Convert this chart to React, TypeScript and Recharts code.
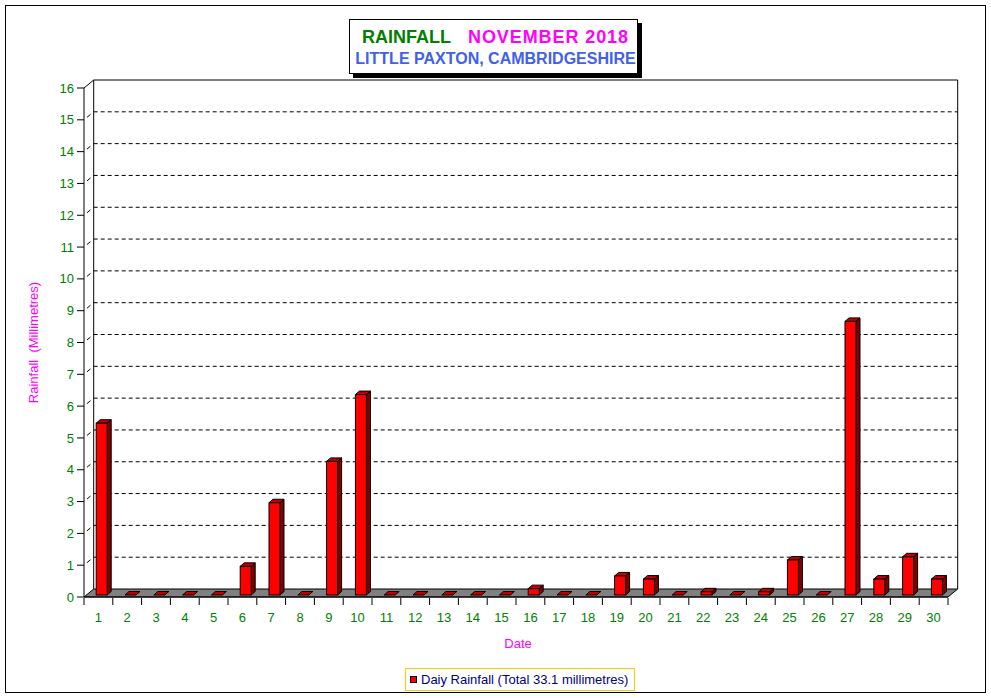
import React from "react";
import { BarChart, Bar, XAxis, YAxis, CartesianGrid, ReferenceArea } from "recharts";

const FONT = "Arial, 'Liberation Sans', sans-serif";

const days = ["1", "2", "3", "4", "5", "6", "7", "8", "9", "10", "11", "12", "13", "14", "15",
  "16", "17", "18", "19", "20", "21", "22", "23", "24", "25", "26", "27", "28", "29", "30"];
const rainfall = [5.4, 0, 0, 0, 0, 0.9, 2.9, 0, 4.2, 6.3, 0, 0, 0, 0, 0,
  0.2, 0, 0, 0.6, 0.5, 0, 0.1, 0, 0.1, 1.1, 0, 8.6, 0.5, 1.2, 0.5];
const yTicks = [0, 1, 2, 3, 4, 5, 6, 7, 8, 9, 10, 11, 12, 13, 14, 15, 16];
const gridValues = [1, 2, 3, 4, 5, 6, 7, 8, 9, 10, 11, 12, 13, 14, 15];

const data = days.map((day, i) => ({ day, rain: rainfall[i] }));

// depth of the back wall and of each bar
const DX = 9.7;
const DY = -8;
const BDX = 4;
const BDY = -3.5;

function Backdrop(p: any) {
  const { x, y, width: w, height: h } = p;
  const b = y + h;
  return (
    <g>
      <polygon
        points={`${x},${b} ${x + w},${b} ${x + w + DX},${b + DY} ${x + DX},${b + DY}`}
        fill="#808080"
        stroke="#000"
      />
      <polyline
        points={`${x + DX},${b + DY} ${x + DX},${y + DY} ${x + w + DX},${y + DY} ${x + w + DX},${b + DY}`}
        fill="none"
        stroke="#000"
      />
      <line x1={x} y1={y} x2={x + DX} y2={y + DY} stroke="#000" />
    </g>
  );
}

function BackGridLine(p: any) {
  const { x1, y1, x2 } = p;
  return (
    <g key={p.key}>
      <line x1={x1 + DX} y1={y1 + DY} x2={x2 + DX} y2={y1 + DY} stroke="#000" strokeDasharray="4 3" />
      <line x1={x1 + 3} y1={y1 - 2.5} x2={x1 + 6.5} y2={y1 - 5.5} stroke="#000" />
    </g>
  );
}

function Bar3D(p: any) {
  const { x, y, width: w, height } = p;
  const h = Math.max(0, height || 0);
  const fx = x + 3.2;
  const fy = y - 2;
  return (
    <g>
      {h > 0 && (
        <polygon
          points={`${fx + w},${fy} ${fx + w + BDX},${fy + BDY} ${fx + w + BDX},${fy + h + BDY} ${fx + w},${fy + h}`}
          fill="#800000"
          stroke="#000"
        />
      )}
      <polygon
        points={`${fx},${fy} ${fx + BDX},${fy + BDY} ${fx + w + BDX},${fy + BDY} ${fx + w},${fy}`}
        fill="#C00000"
        stroke="#000"
      />
      {h > 0 && <rect x={fx} y={fy} width={w} height={h} fill="#FF0000" stroke="#000" />}
    </g>
  );
}

function DateTick(p: any) {
  const { x, y, payload, index } = p;
  const half = payload?.offset ?? 14.4;
  return (
    <g>
      <line x1={x - half} y1={y + 1} x2={x - half} y2={y + 8} stroke="#000" />
      {index === days.length - 1 && <line x1={x + half} y1={y + 1} x2={x + half} y2={y + 8} stroke="#000" />}
      <text x={x} y={y + 25} textAnchor="middle" fill="#008000" fontSize={13}>
        {payload.value}
      </text>
    </g>
  );
}

export default function App() {
  return (
    <div style={{ position: "relative", width: 991, height: 698, fontFamily: FONT, background: "#fff" }}>
      <style>{"body{margin:0}"}</style>
      <BarChart width={991} height={698} data={data} margin={{ top: 88, right: 43, left: 24, bottom: 71 }} barSize={11}>
        <ReferenceArea y1={0} y2={16} shape={Backdrop} ifOverflow="visible" />
        <CartesianGrid horizontalValues={gridValues} vertical={false} horizontal={BackGridLine} />
        <XAxis
          dataKey="day"
          interval={0}
          height={30}
          tickLine={false}
          tickSize={0}
          tickMargin={0}
          stroke="#000"
          tick={DateTick}
        />
        <YAxis
          domain={[0, 16]}
          ticks={yTicks}
          interval={0}
          width={60}
          stroke="#000"
          tickSize={7}
          tickMargin={3}
          tick={{ fill: "#008000", fontSize: 13 }}
        />
        <Bar dataKey="rain" shape={Bar3D} isAnimationActive={false} />
      </BarChart>
      <svg width={991} height={698} style={{ position: "absolute", left: 0, top: 0, pointerEvents: "none" }}>
        <rect x={5.5} y={5.5} width={980} height={687} fill="none" stroke="#000" />
        <rect x={353} y={23} width={289} height={55} fill="#000" />
        <rect x={349.5} y={19.5} width={288} height={54} fill="#fff" stroke="#000" />
        <text x={362} y={43} fontSize={18} fontWeight="bold" fill="#008000">RAINFALL</text>
        <text x={468} y={43} fontSize={18} fontWeight="bold" fill="#FF00FF" textLength={160} lengthAdjust="spacing">
          NOVEMBER 2018
        </text>
        <text x={495.5} y={64} fontSize={16} fontWeight="bold" fill="#4060F0" textAnchor="middle">
          LITTLE PAXTON, CAMBRIDGESHIRE
        </text>
        <text
          x={38}
          y={342.5}
          fontSize={13}
          fill="#FF00FF"
          textAnchor="middle"
          transform="rotate(-90 38 342.5)"
          style={{ whiteSpace: "pre" }}
        >
          {"Rainfall  (Millimetres)"}
        </text>
        <text x={518} y={648} fontSize={13} fill="#FF00FF" textAnchor="middle">Date</text>
        <rect x={405.5} y={668.5} width={229} height={22} fill="#fff" stroke="#FFCC00" />
        <rect x={410.5} y={676.5} width={6} height={6} fill="#FF0000" stroke="#000" />
        <text x={421} y={684} fontSize={13} fill="#000080">Daiy Rainfall (Total 33.1 millimetres)</text>
      </svg>
    </div>
  );
}
